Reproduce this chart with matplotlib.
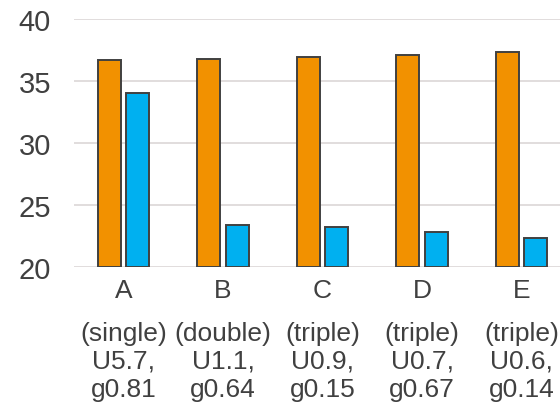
import numpy as np
import matplotlib
matplotlib.use("Agg")
import matplotlib.pyplot as plt
import matplotlib.transforms as mtransforms

# Data
categories = ["A", "B", "C", "D", "E"]
descriptions = ["(single)\nU5.7,\ng0.81", "(double)\nU1.1,\ng0.64",
                "(triple)\nU0.9,\ng0.15", "(triple)\nU0.7,\ng0.67",
                "(triple)\nU0.6,\ng0.14"]
orange_vals = [36.7, 36.8, 36.9, 37.1, 37.35]
blue_vals = [34.0, 23.4, 23.2, 22.8, 22.3]
y_ticks = [20, 25, 30, 35, 40]

plt.rcParams['font.family'] = ['Liberation Sans', 'DejaVu Sans']
text_color = "#404040"

fig = plt.figure(figsize=(5.6, 4.06), dpi=100)
ax = fig.add_axes([0.132, 0.3406, 0.888, 0.6101])

x = np.arange(len(categories))
width = 0.23
offset = 0.143
ax.bar(x - offset, np.array(orange_vals) - 20, width, bottom=20, color="#F29100",
       edgecolor="#404040", linewidth=1.4, zorder=3)
ax.bar(x + offset, np.array(blue_vals) - 20, width, bottom=20, color="#00B0F0",
       edgecolor="#404040", linewidth=1.4, zorder=3)

ax.set_xlim(-0.5, len(categories) - 0.5)
ax.set_ylim(20, 40)
ax.set_yticks(y_ticks)
ax.yaxis.grid(True, color="#DEDADA", linewidth=1.3, zorder=0)
ax.set_axisbelow(True)
for s in ax.spines.values():
    s.set_visible(False)

ax.tick_params(axis="y", length=0, pad=16.5, labelsize=21, labelcolor=text_color)
ax.tick_params(axis="x", length=0, pad=8, labelsize=19, labelcolor=text_color)
ax.set_xticks(x)
ax.set_xticklabels(categories)

trans = mtransforms.blended_transform_factory(ax.transData, ax.transAxes)
for xi, desc in zip(x, descriptions):
    ax.text(xi, -0.3795, desc, transform=trans, ha="center", va="center",
            fontsize=19, color=text_color, linespacing=1.22)

fig.savefig("out.png", dpi=100)
